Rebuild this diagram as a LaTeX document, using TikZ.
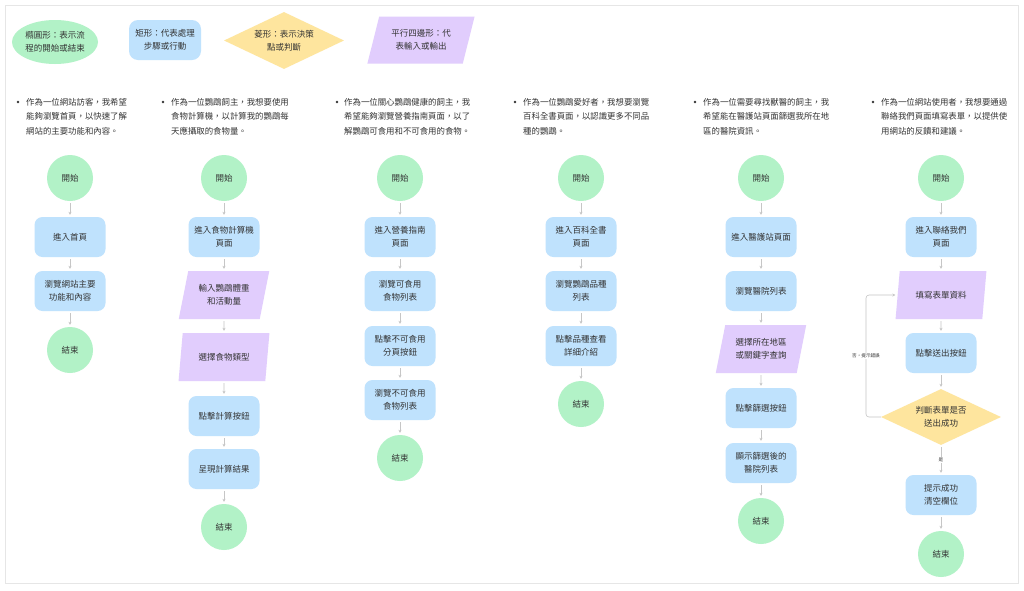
\documentclass[tikz,border=0pt]{standalone}
\usepackage{fontspec}
\newfontfamily\cjk{Noto Sans CJK TC}
\usetikzlibrary{shapes.geometric,arrows.meta}
\definecolor{cgreen}{HTML}{B2F2C7}
\definecolor{cblue}{HTML}{BFE2FD}
\definecolor{cyellow}{HTML}{FEE59E}
\definecolor{cpurple}{HTML}{E1CDFD}
\definecolor{ctext}{HTML}{333333}
\definecolor{cline}{HTML}{C6C6C6}
\definecolor{cframe}{HTML}{E6E6E6}
\tikzset{
  lbl/.style={font=\cjk\fontsize{8.5}{13}\selectfont, text=ctext, align=center, inner sep=0pt},
  term/.style={lbl, circle, fill=cgreen, minimum size=46pt},
  proc/.style={lbl, rectangle, rounded corners=8pt, fill=cblue, minimum width=71pt, minimum height=40pt},
  io/.style={lbl, trapezium, trapezium left angle=72, trapezium right angle=108, trapezium stretches=true, fill=cpurple, minimum width=91pt, minimum height=48pt},
  dec/.style={lbl, diamond, fill=cyellow, minimum width=120pt, minimum height=56pt, aspect=2.1},
  story/.style={font=\cjk\fontsize{8.4}{14.5}\selectfont, text=ctext, align=left, inner sep=0pt, anchor=north west},
  arr/.style={draw=cline, line width=0.6pt, -{Stealth[length=3pt,width=3pt]}, shorten <=2pt, shorten >=2pt},
  tiny/.style={font=\cjk\fontsize{4.6}{5}\selectfont, text=ctext, fill=white, inner sep=1pt}
}
\begin{document}
\begin{tikzpicture}[x=1pt,y=-1pt]
\useasboundingbox (0,0) rectangle (1024,590);
\fill[white] (0,0) rectangle (1024,590);
\draw[cframe, line width=0.6pt] (5,5) rectangle (1018,583);

% legend
\node[lbl, ellipse, fill=cgreen, minimum width=86pt, minimum height=44pt] (lg1) at (55,42) {橢圓形：表示流\\程的開始或結束};
\node[lbl, rectangle, rounded corners=9pt, fill=cblue, minimum width=72pt, minimum height=40pt] (lg2) at (165,40) {矩形：代表處理\\步驟或行動};
\node[lbl, diamond, fill=cyellow, minimum width=120pt, minimum height=57pt, aspect=2.1] (lg3) at (284,40.5) {菱形：表示決策\\點或判斷};
\node[lbl, trapezium, trapezium left angle=68, trapezium right angle=112, trapezium stretches=true, fill=cpurple, minimum width=108pt, minimum height=47pt] (lg4) at (421,40) {平行四邊形：代\\表輸入或輸出};

% user stories
\foreach \bx in {18,163,337,515,695,873} \fill[ctext] (\bx,102) circle (1.3pt);
\node[story] (s1) at (26,98) {作為一位網站訪客，我希望\\能夠瀏覽首頁，以快速了解\\網站的主要功能和內容。};
\node[story] (s2) at (171,98) {作為一位鸚鵡飼主，我想要使用\\食物計算機，以計算我的鸚鵡每\\天應攝取的食物量。};
\node[story] (s3) at (344,98) {作為一位關心鸚鵡健康的飼主，我\\希望能夠瀏覽營養指南頁面，以了\\解鸚鵡可食用和不可食用的食物。};
\node[story] (s4) at (523,98) {作為一位鸚鵡愛好者，我想要瀏覽\\百科全書頁面，以認識更多不同品\\種的鸚鵡。};
\node[story] (s5) at (703,98) {作為一位需要尋找獸醫的飼主，我\\希望能在醫護站頁面篩選我所在地\\區的醫院資訊。};
\node[story] (s6) at (881,98) {作為一位網站使用者，我想要通過\\聯絡我們頁面填寫表單，以提供使\\用網站的反饋和建議。};

% column 1
\node[term] (a1) at (70,178) {開始};
\node[proc] (a2) at (70,237) {進入首頁};
\node[proc] (a3) at (70,291) {瀏覽網站主要\\功能和內容};
\node[term] (a4) at (70,350) {結束};
\draw[arr] (a1) -- (a2); \draw[arr] (a2) -- (a3); \draw[arr] (a3) -- (a4);

% column 2
\node[term] (b1) at (224,178) {開始};
\node[proc] (b2) at (224,237) {進入食物計算機\\頁面};
\node[io] (b3) at (224,295) {輸入鸚鵡體重\\和活動量};
\node[io] (b4) at (224,357) {選擇食物類型};
\node[proc] (b5) at (224,416) {點擊計算按鈕};
\node[proc] (b6) at (224,469) {呈現計算結果};
\node[term] (b7) at (224,527) {結束};
\draw[arr] (b1) -- (b2); \draw[arr] (b2) -- (b3); \draw[arr] (b3) -- (b4);
\draw[arr] (b4) -- (b5); \draw[arr] (b5) -- (b6); \draw[arr] (b6) -- (b7);

% column 3
\node[term] (c1) at (400,178) {開始};
\node[proc] (c2) at (400,237) {進入營養指南\\頁面};
\node[proc] (c3) at (400,291) {瀏覽可食用\\食物列表};
\node[proc] (c4) at (400,346) {點擊不可食用\\分頁按鈕};
\node[proc] (c5) at (400,400) {瀏覽不可食用\\食物列表};
\node[term] (c6) at (400,458) {結束};
\draw[arr] (c1) -- (c2); \draw[arr] (c2) -- (c3); \draw[arr] (c3) -- (c4);
\draw[arr] (c4) -- (c5); \draw[arr] (c5) -- (c6);

% column 4
\node[term] (d1) at (581,178) {開始};
\node[proc] (d2) at (581,237) {進入百科全書\\頁面};
\node[proc] (d3) at (581,291) {瀏覽鸚鵡品種\\列表};
\node[proc] (d4) at (581,346) {點擊品種查看\\詳細介紹};
\node[term] (d5) at (581,404) {結束};
\draw[arr] (d1) -- (d2); \draw[arr] (d2) -- (d3); \draw[arr] (d3) -- (d4); \draw[arr] (d4) -- (d5);

% column 5
\node[term] (e1) at (761,178) {開始};
\node[proc] (e2) at (761,237) {進入醫護站頁面};
\node[proc] (e3) at (761,291) {瀏覽醫院列表};
\node[io] (e4) at (761,349) {選擇所在地區\\或關鍵字查詢};
\node[proc] (e5) at (761,408) {點擊篩選按鈕};
\node[proc] (e6) at (761,463) {顯示篩選後的\\醫院列表};
\node[term] (e7) at (761,521) {結束};
\draw[arr] (e1) -- (e2); \draw[arr] (e2) -- (e3); \draw[arr] (e3) -- (e4);
\draw[arr] (e4) -- (e5); \draw[arr] (e5) -- (e6); \draw[arr] (e6) -- (e7);

% column 6
\node[term] (f1) at (941,178) {開始};
\node[proc] (f2) at (941,237) {進入聯絡我們\\頁面};
\node[io] (f3) at (941,295) {填寫表單資料};
\node[proc] (f4) at (941,353) {點擊送出按鈕};
\node[dec] (f5) at (941,417) {判斷表單是否\\送出成功};
\node[proc] (f6) at (941,495) {提示成功\\清空欄位};
\node[term] (f7) at (941,554) {結束};
\draw[arr] (f1) -- (f2); \draw[arr] (f2) -- (f3); \draw[arr] (f3) -- (f4);
\draw[arr] (f4) -- (f5);
\draw[arr] (f5) -- node[tiny] {是} (f6);
\draw[arr] (f6) -- (f7);
\coordinate (lp) at (866,417);
\draw[arr, rounded corners=3pt, shorten <=0pt] (f5.west) -- (lp) |- node[tiny, pos=0.25] {否，提示錯誤} (f3.west);
\end{tikzpicture}
\end{document}
